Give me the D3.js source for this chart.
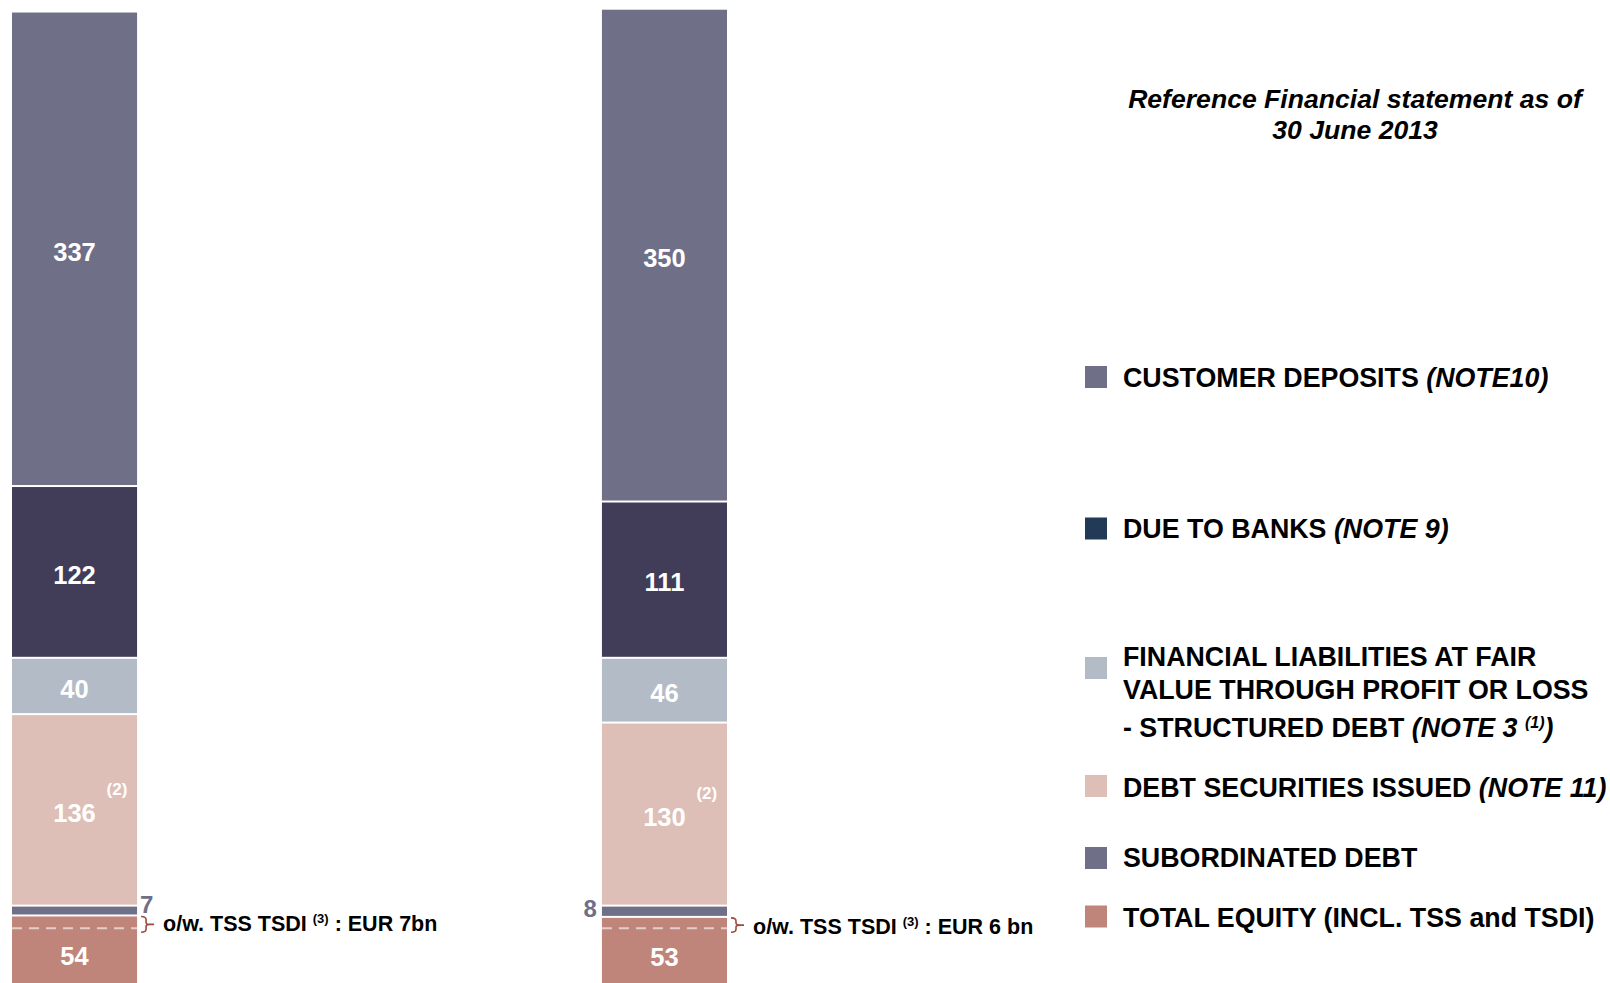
<!DOCTYPE html>
<html>
<head>
<meta charset="utf-8">
<script src="https://cdn.jsdelivr.net/npm/d3@7"></script>
<style>
  html, body { margin: 0; padding: 0; background: #fff; }
  svg { display: block; font-family: "Liberation Sans", Arial, Helvetica, sans-serif; font-weight: bold; }
</style>
</head>
<body>
<svg id="chart" width="1610" height="983"></svg>
<script>
// Balance-sheet funding structure, EUR bn
const periods = ["31.12.2012", "30.06.2013"];
const customerDeposits = [337, 350];
const dueToBanks = [122, 111];
const fairValueLiabilities = [40, 46];
const debtSecuritiesIssued = [136, 130];
const subordinatedDebt = [7, 8];
const totalEquity = [54, 53];
const tssTsdi = [7, 6];
const tssTsdiText = ["EUR 7bn", "EUR 6 bn"];

// stacking order, bottom to top
const seriesKeys = ["equity", "subordinated", "debtSecurities", "fairValue", "dueToBanks", "deposits"];

const legendKeys = ["deposits", "dueToBanks", "fairValue", "debtSecurities", "subordinated", "equity"];
const legendMain = [
  ["CUSTOMER DEPOSITS "],
  ["DUE TO BANKS "],
  ["FINANCIAL LIABILITIES AT FAIR", "VALUE THROUGH PROFIT OR LOSS", "- STRUCTURED DEBT "],
  ["DEBT SECURITIES ISSUED "],
  ["SUBORDINATED DEBT"],
  ["TOTAL EQUITY (INCL. TSS and TSDI)"]
];
const legendNote = ["(NOTE10)", "(NOTE 9)", "(NOTE 3 ", "(NOTE 11)", "", ""];
const legendNoteSup = ["", "", "(1)", "", "", ""];

const titleLines = ["Reference Financial statement as of", "30 June 2013"];

// ---- styles ----
const barColor = {
  deposits: "#6f6f87",
  dueToBanks: "#413d59",
  fairValue: "#b3bbc7",
  debtSecurities: "#ddbfb7",
  subordinated: "#6f6f87",
  equity: "#c0857a"
};
const swatchColor = Object.assign({}, barColor, { dueToBanks: "#233a56" });

const rows = periods.map((p, i) => ({
  period: p,
  deposits: customerDeposits[i],
  dueToBanks: dueToBanks[i],
  fairValue: fairValueLiabilities[i],
  debtSecurities: debtSecuritiesIssued[i],
  subordinated: subordinatedDebt[i],
  equity: totalEquity[i]
}));

const stacked = d3.stack().keys(seriesKeys)(rows);

const svg = d3.select("#chart");

const x = d3.scaleBand().domain(periods).range([12, 727]).paddingInner(0.788).paddingOuter(0);
const y = d3.scaleLinear().domain([0, 700]).range([991.5, 991.5 - 700 * 1.408]);
const bw = x.bandwidth();

// ---- stacked bars ----
const layers = svg.append("g").selectAll("g")
  .data(stacked).join("g")
  .attr("fill", d => barColor[d.key]);

layers.selectAll("rect")
  .data(d => d.map(s => Object.assign(s, { key: d.key })))
  .join("rect")
  .attr("x", d => x(d.data.period))
  .attr("y", d => y(d[1]) + 1)
  .attr("width", bw)
  .attr("height", d => Math.max(0, y(d[0]) - y(d[1]) - 2));

// ---- value labels inside the segments ----
const inside = stacked.filter(s => s.key !== "subordinated");
svg.append("g").selectAll("g")
  .data(inside).join("g")
  .selectAll("text")
  .data(d => d)
  .join("text")
  .attr("x", d => x(d.data.period) + bw / 2)
  .attr("y", d => (y(d[0]) + y(d[1])) / 2)
  .attr("dy", "0.46em")
  .attr("text-anchor", "middle")
  .attr("fill", "#fff")
  .attr("font-size", 25.5)
  .text(d => d[1] - d[0]);

// footnote marker on debt securities
const debtLayer = stacked.find(s => s.key === "debtSecurities");
svg.append("g").selectAll("text")
  .data(debtLayer).join("text")
  .attr("x", d => x(d.data.period) + bw / 2 + 32)
  .attr("y", d => (y(d[0]) + y(d[1])) / 2 - 15)
  .attr("fill", "#fff")
  .attr("font-size", 17)
  .text("(2)");

// subordinated debt values, outside the bars
const subLayer = stacked.find(s => s.key === "subordinated");
svg.append("g").selectAll("text")
  .data(subLayer).join("text")
  .attr("x", (d, i) => i === 0 ? x(d.data.period) + bw + 3 : x(d.data.period) - 5)
  .attr("y", (d, i) => y(d[1]) + (i === 0 ? 7 : 11))
  .attr("text-anchor", (d, i) => i === 0 ? "start" : "end")
  .attr("fill", "#6f6f87")
  .attr("font-size", 24)
  .text(d => d[1] - d[0]);

// ---- TSS / TSDI share of equity ----
const eqLayer = stacked.find(s => s.key === "equity");
const tss = svg.append("g");
eqLayer.forEach((d, i) => {
  const x0 = x(d.data.period);
  const top = y(d[1]) + 1;
  const dashY = y(d[1] - tssTsdi[i]) + 3;
  tss.append("line")
    .attr("x1", x0).attr("x2", x0 + bw)
    .attr("y1", dashY).attr("y2", dashY)
    .attr("stroke", "#e6cdc7").attr("stroke-width", 2)
    .attr("stroke-dasharray", "10 7");

  const bx = x0 + bw + 4;
  const yt = top, yb = dashY + 4, ym = (yt + yb) / 2;
  tss.append("path")
    .attr("d", `M${bx},${yt} Q${bx + 5},${yt} ${bx + 5},${yt + 3} L${bx + 5},${ym - 2} Q${bx + 5},${ym} ${bx + 9},${ym}`
      + ` M${bx + 9},${ym} Q${bx + 5},${ym} ${bx + 5},${ym + 2} L${bx + 5},${yb - 3} Q${bx + 5},${yb} ${bx},${yb}`
      + ` M${bx + 9},${ym} L${bx + 13},${ym}`)
    .attr("fill", "none").attr("stroke", "#a04a3e").attr("stroke-width", 1.6);

  const t = tss.append("text")
    .attr("x", bx + 22)
    .attr("y", ym + 7 + i * 2)
    .attr("font-size", 21.5)
    .attr("fill", "#000");
  t.append("tspan").text("o/w. TSS TSDI ");
  t.append("tspan").attr("font-size", 13).attr("dy", -8).text("(3)");
  t.append("tspan").attr("dy", 8).text(" : " + tssTsdiText[i]);
});

// ---- title ----
svg.append("g").selectAll("text")
  .data(titleLines).join("text")
  .attr("x", 1355)
  .attr("y", (d, i) => 108 + i * 31)
  .attr("text-anchor", "middle")
  .attr("font-size", 26.6)
  .attr("font-style", "italic")
  .attr("fill", "#000")
  .text(d => d);

// ---- legend ----
const legendBaselines = [[386.5], [538], [666, 698.5, 736.5], [797], [866.5], [926.5]];
const swatchTop = [366, 517.5, 657, 775, 847, 905.5];
const legend = svg.append("g");
legendKeys.forEach((k, i) => {
  legend.append("rect")
    .attr("x", 1085).attr("y", swatchTop[i])
    .attr("width", 22).attr("height", 22)
    .attr("fill", swatchColor[k]);
  const lines = legendMain[i];
  lines.forEach((ln, j) => {
    const t = legend.append("text")
      .attr("x", 1123)
      .attr("y", legendBaselines[i][j])
      .attr("font-size", 26.8)
      .attr("fill", "#000");
    t.append("tspan").text(ln);
    if (j === lines.length - 1 && legendNote[i]) {
      t.append("tspan").attr("font-style", "italic").text(legendNote[i]);
      if (legendNoteSup[i]) {
        t.append("tspan").attr("font-style", "italic").attr("font-size", 16).attr("dy", -9).text(legendNoteSup[i]);
        t.append("tspan").attr("font-style", "italic").attr("dy", 9).text(")");
      }
    }
  });
});
</script>
</body>
</html>
